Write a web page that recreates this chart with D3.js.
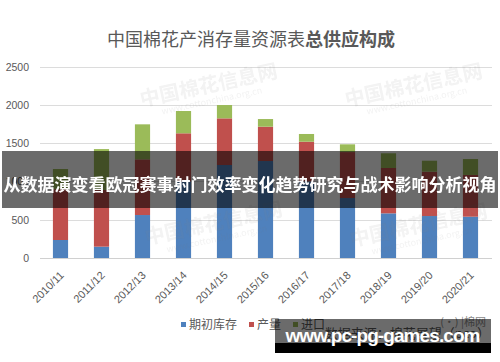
<!DOCTYPE html>
<html>
<head>
<meta charset="utf-8">
<script src="https://cdn.jsdelivr.net/npm/d3@7"></script>
<style>
  body { margin: 0; background: #fff; }
  svg { display: block; }
</style>
</head>
<body>
<div id="chart"></div>
<script>
// 中国棉花产消存量资源表 (万吨)
var seasons = ["2010/11", "2011/12", "2012/13", "2013/14", "2014/15", "2015/16",
               "2016/17", "2017/18", "2018/19", "2019/20", "2020/21"];
var stock   = [235, 148, 561, 1000, 1214, 1266, 1000, 783, 583, 548, 539];
var output  = [664, 740, 727,  628,  609,  448,  518, 600, 592, 579, 545];
var imports = [263, 534, 457,  291,  174,  100,  101, 101, 192, 143, 208];
var yTicks  = [0, 500, 1000, 1500, 2000, 2500];
var seriesNames = ["期初库存", "产量", "进口"];
var colors = ["#4f81bd", "#c0504d", "#9bbb59"];

var width = 500, height = 362;

var svg = d3.select("#chart").append("svg")
    .attr("width", width)
    .attr("height", height);

var x = d3.scaleBand()
    .domain(seasons)
    .range([40, 491])
    .paddingInner(0.63)
    .paddingOuter(0.315);

var y = d3.scaleLinear()
    .domain([0, 2500])
    .range([258, 66.5]);

// title
var title = svg.append("text")
    .attr("x", 251)
    .attr("y", 46)
    .attr("text-anchor", "middle")
    .attr("fill", "#595959")
    .style("font-family", "'Noto Sans CJK SC', sans-serif")
    .style("font-size", "18px");
title.append("tspan").text("中国棉花产消存量资源表");
title.append("tspan").style("font-weight", "bold").text("总供应构成");

// gridlines + y labels
svg.append("g").selectAll("line")
    .data(yTicks)
    .enter().append("line")
    .attr("x1", 40).attr("x2", 492)
    .attr("y1", function(d) { return Math.round(y(d)) + 0.5; })
    .attr("y2", function(d) { return Math.round(y(d)) + 0.5; })
    .attr("stroke", function(d) { return d === 0 ? "#d0d0d0" : "#dcdcdc"; })
    .attr("stroke-width", 1);

svg.append("g").selectAll("text")
    .data(yTicks)
    .enter().append("text")
    .attr("x", 29)
    .attr("y", function(d) { return y(d) + 4; })
    .attr("text-anchor", "end")
    .attr("fill", "#595959")
    .style("font-family", "'Liberation Sans', Arial, sans-serif")
    .style("font-size", "10.5px")
    .text(function(d) { return d; });

// stacked bars
var rows = seasons.map(function(s, i) {
  return { season: s, "期初库存": stock[i], "产量": output[i], "进口": imports[i] };
});
var stacked = d3.stack().keys(seriesNames)(rows);

svg.append("g").selectAll("g")
    .data(stacked)
    .enter().append("g")
    .attr("fill", function(d, i) { return colors[i]; })
    .selectAll("rect")
    .data(function(d) { return d; })
    .enter().append("rect")
    .attr("x", function(d) { return x(d.data.season); })
    .attr("width", x.bandwidth())
    .attr("y", function(d) { return y(d[1]); })
    .attr("height", function(d) { return y(d[0]) - y(d[1]); });

// x labels, rotated
svg.append("g").selectAll("text")
    .data(seasons)
    .enter().append("text")
    .attr("transform", function(d) {
      return "translate(" + (x(d) + x.bandwidth() / 2 + 4) + ",276) rotate(-45)";
    })
    .attr("text-anchor", "end")
    .attr("fill", "#595959")
    .style("font-family", "'Liberation Sans', Arial, sans-serif")
    .style("font-size", "11px")
    .text(function(d) { return d; });

// legend
var legendX = [181, 249, 293];
var legend = svg.append("g").selectAll("g")
    .data(seriesNames)
    .enter().append("g")
    .attr("transform", function(d, i) { return "translate(" + legendX[i] + ",322)"; });
legend.append("rect")
    .attr("width", 5).attr("height", 5)
    .attr("fill", function(d, i) { return colors[i]; });
legend.append("text")
    .attr("x", 8).attr("y", 7)
    .attr("fill", "#595959")
    .style("font-family", "'Noto Sans CJK SC', sans-serif")
    .style("font-size", "12px")
    .text(function(d) { return d; });

// source note
svg.append("text")
    .attr("x", 490).attr("y", 338)
    .attr("text-anchor", "end")
    .attr("fill", "#595959")
    .style("font-family", "'Noto Sans CJK SC', sans-serif")
    .style("font-size", "13px")
    .text("数据来源：棉花展望（pco）");
svg.append("text")
    .attr("x", 486).attr("y", 326)
    .attr("text-anchor", "end")
    .attr("fill", "#8a8a8a")
    .style("font-family", "'Noto Sans CJK SC', sans-serif")
    .style("font-size", "11px")
    .text("(·) |棉网");

// faint watermarks
var marks = [[210, 92], [415, 92], [215, 230], [420, 232]];
var wm = svg.append("g").attr("opacity", 0.1).attr("fill", "#808080")
    .style("font-family", "'Noto Sans CJK SC', sans-serif");
marks.forEach(function(p) {
  var g = wm.append("g").attr("transform", "translate(" + p[0] + "," + p[1] + ") rotate(-12)");
  g.append("text").attr("text-anchor", "middle").style("font-size", "20px")
      .style("font-weight", "bold").text("中国棉花信息网");
  g.append("text").attr("text-anchor", "middle").attr("y", 12).style("font-size", "9px")
      .text("www.cottonchina.org.cn");
});

// overlay banner
svg.append("rect")
    .attr("x", 2).attr("y", 151)
    .attr("width", 496).attr("height", 57)
    .attr("fill", "#000").attr("opacity", 0.58);
svg.append("text")
    .attr("x", 250).attr("y", 191)
    .attr("text-anchor", "middle")
    .attr("fill", "#fff")
    .attr("textLength", 493)
    .style("font-family", "'Noto Sans CJK SC', sans-serif")
    .style("font-weight", "bold")
    .style("font-size", "17px")
    .text("从数据演变看欧冠赛事射门效率变化趋势研究与战术影响分析视角");

// bottom banner
svg.append("rect")
    .attr("x", 275).attr("y", 319)
    .attr("width", 216).attr("height", 24)
    .attr("fill", "#000").attr("opacity", 0.58);
svg.append("rect")
    .attr("x", 275).attr("y", 343)
    .attr("width", 216).attr("height", 10)
    .attr("fill", "#000");
svg.append("text")
    .attr("x", 383).attr("y", 342)
    .attr("text-anchor", "middle")
    .attr("fill", "#fff")
    .attr("textLength", 195)
    .style("font-family", "'Liberation Sans', Arial, sans-serif")
    .style("font-weight", "bold")
    .style("font-size", "19px")
    .text("www.pc-pg-games.com");
</script>
</body>
</html>
